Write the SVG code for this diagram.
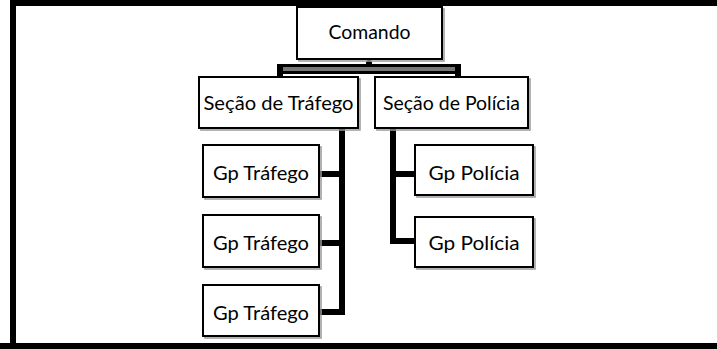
<svg xmlns="http://www.w3.org/2000/svg" width="717" height="349" viewBox="0 0 717 349">
<style>
.box{fill:#fff;stroke:#000;stroke-width:2}
.sh{fill:none;stroke:#999;stroke-width:1.5}
.t{font-family:Lato,"Open Sans","Liberation Sans",sans-serif;font-size:19px;fill:#000;text-anchor:middle}
.c{fill:none;stroke:#000;stroke-width:6;stroke-linejoin:miter}
</style>
<rect x="0" y="0" width="717" height="349" fill="#fff"/>
<g id="frame">
<rect x="10" y="0" width="707" height="6" fill="#000"/>
<rect x="10" y="0" width="6" height="349" fill="#000"/>
<rect x="0" y="343" width="717" height="6" fill="#000"/>
</g>
<g id="connectors">
<rect x="277" y="64" width="184" height="10" fill="#000"/>
<rect x="283" y="67" width="172" height="4" fill="#777"/>
<rect x="277" y="64" width="6" height="14" fill="#000"/>
<rect x="455" y="64" width="6" height="14" fill="#000"/>
<line x1="369" y1="58" x2="369" y2="66" stroke="#000" stroke-width="3"/>
<circle cx="369" cy="63" r="3" fill="#000"/>
<polyline class="c" points="342,128 342,312 319,312"/>
<line class="c" x1="319" y1="174" x2="342" y2="174"/>
<line class="c" x1="319" y1="243" x2="342" y2="243"/>
<polyline class="c" points="393,128 393,241 415,241"/>
<line class="c" x1="393" y1="174" x2="415" y2="174"/>
</g>
<g id="comando">
<rect class="sh" x="299" y="9" width="145" height="52"/>
<rect class="box" x="297" y="7" width="145" height="52"/>
<text class="t" x="369.5" y="39" textLength="82" lengthAdjust="spacingAndGlyphs">Comando</text>
</g>
<g id="secao-trafego">
<rect class="sh" x="201" y="79" width="159" height="51"/>
<rect class="box" x="199" y="77" width="159" height="51"/>
<text class="t" x="278.5" y="110" textLength="150" lengthAdjust="spacingAndGlyphs">Seção de Tráfego</text>
</g>
<g id="secao-policia">
<rect class="sh" x="377" y="79" width="153" height="51"/>
<rect class="box" x="375" y="77" width="153" height="51"/>
<text class="t" x="451.5" y="110" textLength="137" lengthAdjust="spacingAndGlyphs">Seção de Polícia</text>
</g>
<g id="gp-trafego-1">
<rect class="sh" x="205" y="147" width="116" height="52"/>
<rect class="box" x="203" y="145" width="116" height="52"/>
<text class="t" x="261" y="180" textLength="96" lengthAdjust="spacingAndGlyphs">Gp Tráfego</text>
</g>
<g id="gp-trafego-2">
<rect class="sh" x="205" y="217" width="116" height="52"/>
<rect class="box" x="203" y="215" width="116" height="52"/>
<text class="t" x="261" y="250" textLength="96" lengthAdjust="spacingAndGlyphs">Gp Tráfego</text>
</g>
<g id="gp-trafego-3">
<rect class="sh" x="205" y="287" width="116" height="51"/>
<rect class="box" x="203" y="285" width="116" height="51"/>
<text class="t" x="261" y="320" textLength="96" lengthAdjust="spacingAndGlyphs">Gp Tráfego</text>
</g>
<g id="gp-policia-1">
<rect class="sh" x="417" y="147" width="118" height="50"/>
<rect class="box" x="415" y="145" width="118" height="50"/>
<text class="t" x="474" y="180" textLength="91" lengthAdjust="spacingAndGlyphs">Gp Polícia</text>
</g>
<g id="gp-policia-2">
<rect class="sh" x="417" y="219" width="118" height="50"/>
<rect class="box" x="415" y="217" width="118" height="50"/>
<text class="t" x="474" y="250" textLength="91" lengthAdjust="spacingAndGlyphs">Gp Polícia</text>
</g>
</svg>
